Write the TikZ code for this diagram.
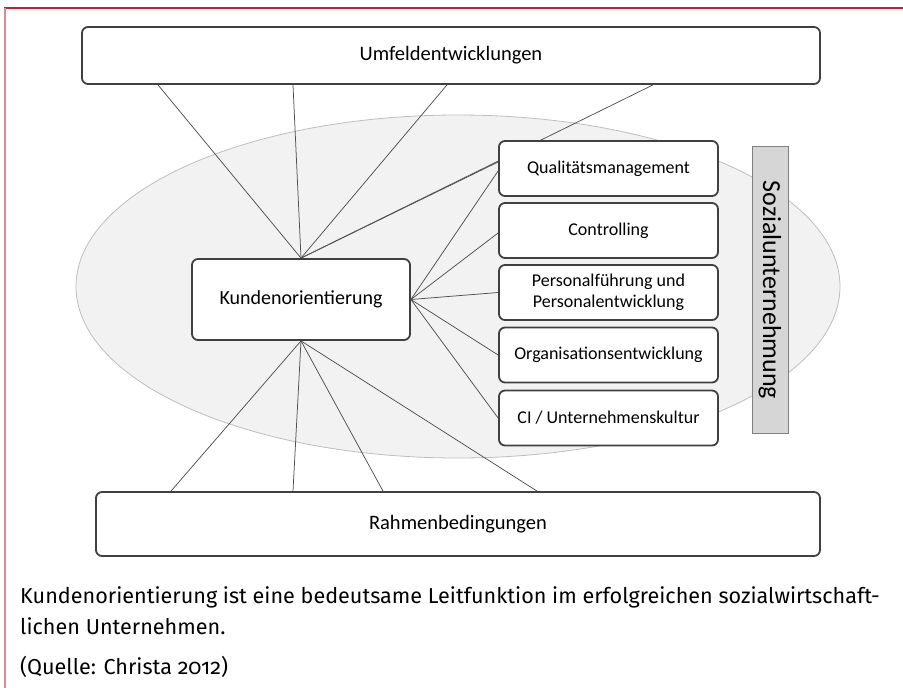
\documentclass[tikz,border=0pt]{standalone}
\usepackage{fontspec}
\setmainfont{Carlito}
\newfontfamily\capfont[Numbers=OldStyle]{Fira Sans}
\usetikzlibrary{backgrounds}

\definecolor{framered}{HTML}{C41E3A}
\definecolor{framepink}{HTML}{DA8A98}
\definecolor{boxline}{HTML}{404040}
\definecolor{linkline}{HTML}{505050}
\definecolor{ellfill}{HTML}{F2F2F2}
\definecolor{ellline}{HTML}{BEBEBE}
\definecolor{sozfill}{HTML}{D6D6D6}

\begin{document}
\begin{tikzpicture}[x=1pt,y=-1pt,
  box/.style={draw=boxline,line width=1.8pt,rounded corners=6pt,fill=white,inner sep=0pt,align=center},
  massnahme/.style={box,minimum width=219pt,minimum height=55pt,font=\fontsize{18}{21}\selectfont},
  link/.style={draw=linkline,line width=0.75pt}]
\useasboundingbox (0,0) rectangle (903,688);
% frame
\draw[framered,line width=1.2pt] (4,8) -- (903,8);
\draw[framepink,line width=1.2pt] (5,8) -- (5,688);

% boxes
\node[box,minimum width=738pt,minimum height=57pt,font=\fontsize{20.5}{24}\selectfont] (umfeld) at (451,55.5) {Umfeldentwicklungen};
\node[box,minimum width=724pt,minimum height=64pt,font=\fontsize{20.5}{24}\selectfont] (rahmen) at (458,524) {Rahmenbedingungen};
\node[box,minimum width=218pt,minimum height=81pt,font=\fontsize{20}{24}\selectfont] (kunden) at (301,299.5) {Kundenorientierung};
\node[massnahme] (qual) at (608.5,168.5) {Qualitätsmanagement};
\node[massnahme] (contr) at (608.5,230.5) {Controlling};
\node[massnahme] (pers) at (608.5,292.5) {Personalführung und\\Personalentwicklung};
\node[massnahme] (orga) at (608.5,355) {Organisationsentwicklung};
\node[massnahme] (ci) at (608.5,418) {CI / Unternehmenskultur};
\node[draw=gray,line width=0.8pt,fill=sozfill,inner sep=0pt,rotate=-90,minimum width=287pt,minimum height=36pt,font=\fontsize{26}{30}\selectfont] (sozial) at (770,290) {Sozialunternehmung};

% ellipse and links behind the boxes
\begin{scope}[on background layer]
\draw[fill=ellfill,draw=ellline,line width=0.8pt] (458,286.5) ellipse [x radius=382pt,y radius=171.5pt];
\foreach \x in {158,293,447,653}
  \draw[link] (kunden.north) -- (\x,0 |- umfeld.south);
\foreach \x in {171,293,383,537}
  \draw[link] (kunden.south) -- (\x,0 |- rahmen.north);
\draw[link] (kunden.north) -- ([yshift=6.5pt]qual.west);
\draw[link] (kunden.east) -- ([yshift=-2.5pt]qual.west);
\draw[link] (kunden.east) -- ([yshift=-2.5pt]contr.west);
\foreach \n in {pers,orga,ci}
  \draw[link] (kunden.east) -- (\n.west);
\end{scope}

% caption
\node[anchor=base west,inner sep=0pt,font=\capfont\fontsize{21.6}{25}\selectfont] (cap1) at (20,603) {Kundenorientierung ist eine bedeutsame Leitfunktion im erfolgreichen sozialwirtschaft-};
\node[anchor=base west,inner sep=0pt,font=\capfont\fontsize{21.6}{25}\selectfont] (cap2) at (20,634) {lichen Unternehmen.};
\node[anchor=base west,inner sep=0pt,font=\capfont\fontsize{21.6}{25}\selectfont] (quelle) at (20,674) {(Quelle: Christa 2012)};
\end{tikzpicture}
\end{document}
